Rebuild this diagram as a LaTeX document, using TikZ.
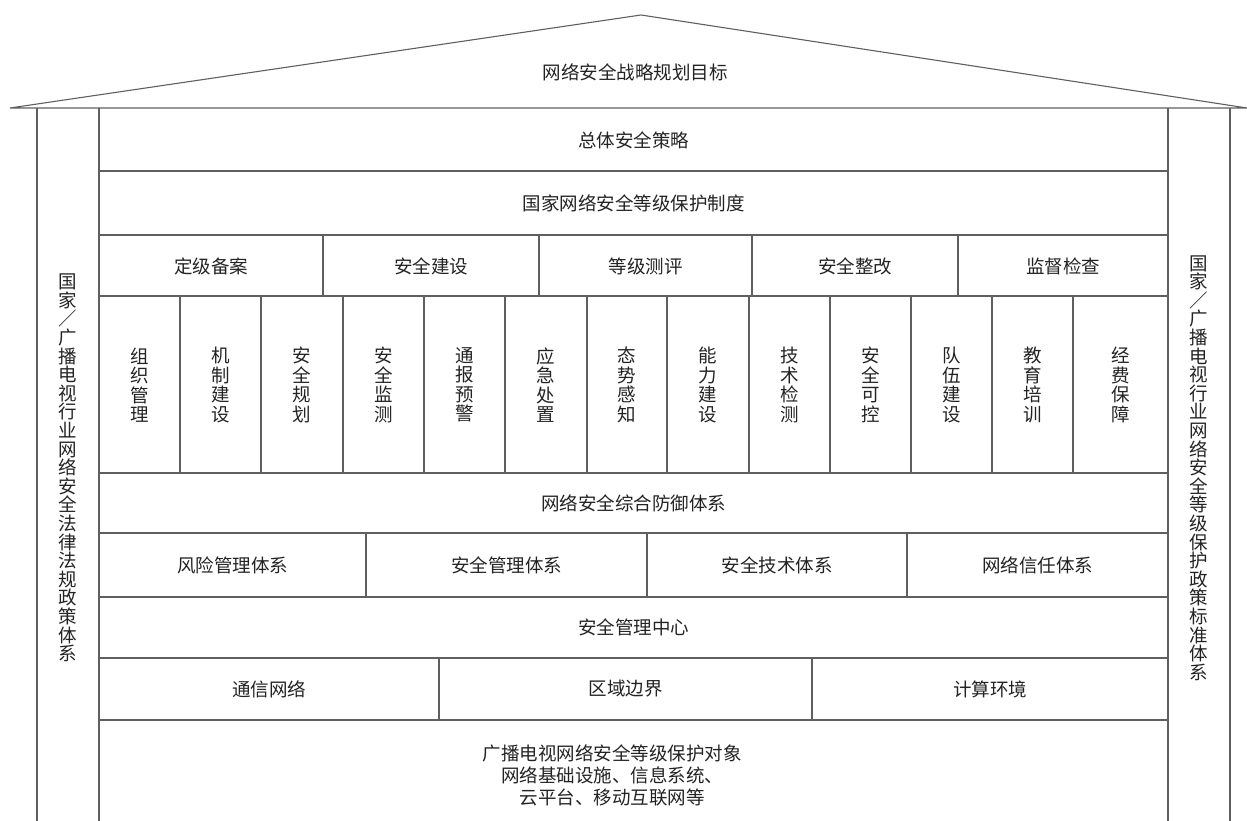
\documentclass[tikz,border=0pt]{standalone}
\usepackage{fontspec}
\newfontfamily\cjk{Noto Sans CJK SC}
\definecolor{linegray}{RGB}{95,95,95}
\definecolor{textgray}{RGB}{35,35,35}

\begin{document}
\begin{tikzpicture}[x=1pt,y=-1pt]

    \tikzset{
      gridline/.style={
        draw=linegray,
        line width=1.1pt,
      },
      celltext/.style={
        text=textgray,
        font=\cjk\fontsize{18.5}{22}\selectfont,
        inner sep=0pt,
        anchor=center,
        align=center,
      },
      vcelltext/.style={
        celltext,
        font=\cjk\fontsize{18.5}{19.5}\selectfont,
      },
      pillartext/.style={
        celltext,
        font=\cjk\fontsize{18.5}{18.6}\selectfont,
      },
    }
    \useasboundingbox (0,0) rectangle (1247,821);

	% roof
	\draw[gridline, line join=miter] (10,108)--(641,15)--(1247,108)--cycle;
	\node[celltext] (goal) at (635,72) {网络安全战略规划目标};

	% pillars
	\draw[gridline] (37,108)--(37,821);
	\draw[gridline] (99,108)--(99,821);
	\draw[gridline] (1168,108)--(1168,821);
	\draw[gridline] (1230,108)--(1230,821);
	\node[pillartext] (lawpillar) at (68,468) {国\\家\\／\\广\\播\\电\\视\\行\\业\\网\\络\\安\\全\\法\\律\\法\\规\\政\\策\\体\\系};
	\node[pillartext] (stdpillar) at (1199,468) {国\\家\\／\\广\\播\\电\\视\\行\\业\\网\\络\\安\\全\\等\\级\\保\\护\\政\\策\\标\\准\\体\\系};

	% rows
	\draw[gridline] (99,171)--(1168,171);
	\draw[gridline] (99,235)--(1168,235);
	\draw[gridline] (99,296)--(1168,296);
	\draw[gridline] (99,473)--(1168,473);
	\draw[gridline] (99,533)--(1168,533);
	\draw[gridline] (99,597)--(1168,597);
	\draw[gridline] (99,658)--(1168,658);
	\draw[gridline] (99,720)--(1168,720);

	\node[celltext] (strategy) at (633.5,140) {总体安全策略};
	\node[celltext] (system) at (633.5,203) {国家网络安全等级保护制度};

	% five steps
	\draw[gridline] (323,235)--(323,296);
	\draw[gridline] (539,235)--(539,296);
	\draw[gridline] (752,235)--(752,296);
	\draw[gridline] (958,235)--(958,296);
	\node[celltext] (filing) at (211,266) {定级备案};
	\node[celltext] (building) at (431,266) {安全建设};
	\node[celltext] (testing) at (645.5,266) {等级测评};
	\node[celltext] (fixing) at (855,266) {安全整改};
	\node[celltext] (checking) at (1063,266) {监督检查};

	% thirteen measures
	\draw[gridline] (180,296)--(180,473);
	\draw[gridline] (261,296)--(261,473);
	\draw[gridline] (343,296)--(343,473);
	\draw[gridline] (424,296)--(424,473);
	\draw[gridline] (505,296)--(505,473);
	\draw[gridline] (587,296)--(587,473);
	\draw[gridline] (667,296)--(667,473);
	\draw[gridline] (749,296)--(749,473);
	\draw[gridline] (830,296)--(830,473);
	\draw[gridline] (911,296)--(911,473);
	\draw[gridline] (992,296)--(992,473);
	\draw[gridline] (1073,296)--(1073,473);
	\node[vcelltext] (org) at (139.5,385) {组\\织\\管\\理};
	\node[vcelltext] (mech) at (220.5,385) {机\\制\\建\\设};
	\node[vcelltext] (plan) at (302,385) {安\\全\\规\\划};
	\node[vcelltext] (monitor) at (383.5,385) {安\\全\\监\\测};
	\node[vcelltext] (alert) at (464.5,385) {通\\报\\预\\警};
	\node[vcelltext] (response) at (546,385) {应\\急\\处\\置};
	\node[vcelltext] (aware) at (627,385) {态\\势\\感\\知};
	\node[vcelltext] (ability) at (708,385) {能\\力\\建\\设};
	\node[vcelltext] (tech) at (789.5,385) {技\\术\\检\\测};
	\node[vcelltext] (control) at (870.5,385) {安\\全\\可\\控};
	\node[vcelltext] (team) at (951.5,385) {队\\伍\\建\\设};
	\node[vcelltext] (train) at (1032.5,385) {教\\育\\培\\训};
	\node[vcelltext] (fund) at (1120.5,385) {经\\费\\保\\障};

	\node[celltext] (defense) at (633.5,503) {网络安全综合防御体系};

	% four systems
	\draw[gridline] (366,533)--(366,597);
	\draw[gridline] (647,533)--(647,597);
	\draw[gridline] (907,533)--(907,597);
	\node[celltext] (risk) at (232.5,565) {风险管理体系};
	\node[celltext] (mgmt) at (506.5,565) {安全管理体系};
	\node[celltext] (techsys) at (777,565) {安全技术体系};
	\node[celltext] (trust) at (1037.5,565) {网络信任体系};

	\node[celltext] (center) at (633.5,627.5) {安全管理中心};

	% three areas
	\draw[gridline] (439,658)--(439,720);
	\draw[gridline] (812,658)--(812,720);
	\node[celltext] (network) at (269,689) {通信网络};
	\node[celltext] (boundary) at (625.5,689) {区域边界};
	\node[celltext] (computing) at (990,689) {计算环境};

	\node[celltext] (objects) at (612,775) {广播电视网络安全等级保护对象\\网络基础设施、信息系统、\\云平台、移动互联网等};

\end{tikzpicture}
\end{document}
